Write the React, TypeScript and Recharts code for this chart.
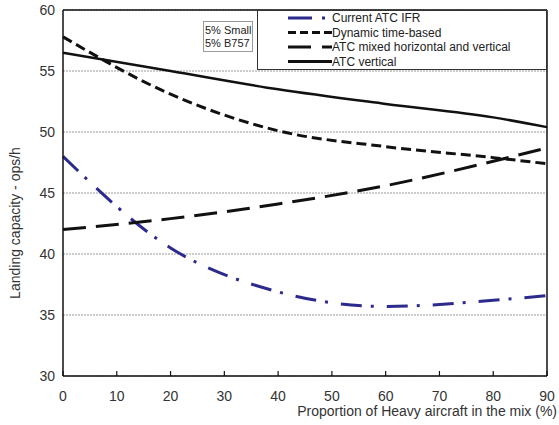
import { LineChart, Line, XAxis, YAxis, CartesianGrid, ReferenceLine, Legend } from 'recharts';

document.body.style.margin = '0';

// proportion of Heavy aircraft (%)
const heavyShare = [0, 20, 40, 60, 80, 90];
// landing capacity, ops/h
const currentIfr = [48.0, 40.5, 36.9, 35.7, 36.2, 36.6];
const dynamicTime = [57.8, 53.1, 50.1, 48.8, 47.9, 47.4];
const mixedHV = [42.0, 42.9, 44.1, 45.6, 47.6, 48.7];
const vertical = [56.5, 55.0, 53.5, 52.3, 51.2, 50.4];

const xTicks = [0, 10, 20, 30, 40, 50, 60, 70, 80, 90];
const yTicks = [30, 35, 40, 45, 50, 55, 60];

const data = heavyShare.map((h, i) => ({
  heavy: h,
  ifr: currentIfr[i],
  dynamic: dynamicTime[i],
  mixed: mixedHV[i],
  vertical: vertical[i],
}));

const FONT = '"Liberation Sans", Arial, sans-serif';

const series = [
  { key: 'ifr', name: 'Current ATC IFR', color: '#2d2a8e', width: 3, dash: '21 9 3 13', legendDash: '24 10 3 20' },
  { key: 'dynamic', name: 'Dynamic time-based', color: '#111', width: 3, dash: '10 5', legendDash: '8 4' },
  { key: 'mixed', name: 'ATC mixed horizontal and vertical', color: '#111', width: 3, dash: '23 10', legendDash: '23 11 10' },
  { key: 'vertical', name: 'ATC vertical', color: '#111', width: 2.5, dash: undefined, legendDash: undefined },
];

// x tick: short inward tick mark plus the label below the axis
function XTick(props: any) {
  const { x, y, payload } = props;
  return (
    <g>
      <line x1={x} x2={x} y1={y} y2={y - 5} stroke="#111" strokeWidth={1.2} />
      <text x={x} y={y + 15} dy="0.71em" textAnchor="middle" fontSize={14} fontFamily={FONT} fill="#333">
        {payload.value}
      </text>
    </g>
  );
}

function LegendBox() {
  return (
    <div style={{ width: 290, height: 60, border: '1px solid #333', background: '#fff', boxSizing: 'border-box' }}>
      <svg width={288} height={58} style={{ display: 'block' }}>
        {series.map((s, i) => {
          const y = 7 + i * 14.5;
          return (
            <g key={s.key}>
              <line x1={30} x2={74} y1={y} y2={y} stroke={s.color} strokeWidth={3} strokeDasharray={s.legendDash} />
              <text x={74} y={y} dominantBaseline="central" fontSize={12} fontFamily={FONT} fill="#222">
                {s.name}
              </text>
            </g>
          );
        })}
      </svg>
    </div>
  );
}

export default function App() {
  return (
    <div style={{ position: 'relative', width: 559, height: 425, background: '#fff' }}>
      <LineChart width={559} height={425} data={data} margin={{ top: 10, right: 12, bottom: 19, left: 23 }}>
        <CartesianGrid vertical={false} stroke="#999" strokeDasharray="2 1" />
        <XAxis
          dataKey="heavy"
          type="number"
          domain={[0, 90]}
          ticks={xTicks}
          height={30}
          stroke="#111"
          strokeWidth={1.5}
          tickLine={false}
          tickSize={0}
          tickMargin={0}
          tick={<XTick />}
          label={{
            content: (props: any) => {
              const vb = props.viewBox;
              return (
                <text x={vb.x + vb.width + 10} y={vb.y + 40} textAnchor="end" fontSize={14} fontFamily={FONT} fill="#333">
                  Proportion of Heavy aircraft in the mix  (%)
                </text>
              );
            },
          }}
        />
        <YAxis
          type="number"
          domain={[30, 60]}
          ticks={yTicks}
          width={40}
          stroke="#111"
          strokeWidth={1.5}
          tickLine={false}
          tick={{ fill: '#333', fontSize: 14, fontFamily: FONT }}
          label={{
            content: (props: any) => {
              const vb = props.viewBox;
              const cx = 15;
              const cy = vb.y + vb.height / 2 + 30;
              return (
                <text x={cx} y={cy} transform={`rotate(-90 ${cx} ${cy})`} textAnchor="middle" dominantBaseline="central" fontSize={14} fontFamily={FONT} fill="#333">
                  Landing capacity - ops/h
                </text>
              );
            },
          }}
        />
        <ReferenceLine y={60} stroke="#111" strokeWidth={1.5} />
        <ReferenceLine x={90} stroke="#111" strokeWidth={1.5} />
        {series.map((s) => (
          <Line
            key={s.key}
            dataKey={s.key}
            name={s.name}
            type="monotone"
            stroke={s.color}
            strokeWidth={s.width}
            strokeDasharray={s.dash}
            dot={false}
            activeDot={false}
            isAnimationActive={false}
          />
        ))}
        <Legend
          layout="horizontal"
          align="center"
          verticalAlign="middle"
          content={() => <LegendBox />}
          wrapperStyle={{ position: 'absolute', left: 257, top: 10, width: 290, height: 60, bottom: 'auto' }}
        />
      </LineChart>
      <div
        style={{
          position: 'absolute',
          left: 203,
          top: 21,
          width: 50,
          height: 31,
          border: '1px solid #999',
          boxSizing: 'border-box',
          fontFamily: FONT,
          fontSize: 11,
          lineHeight: '13px',
          whiteSpace: 'nowrap',
          color: '#222',
          padding: '2px 0 0 1px',
          background: '#fff',
        }}
      >
        5% Small
        <br />
        5% B757
      </div>
    </div>
  );
}
